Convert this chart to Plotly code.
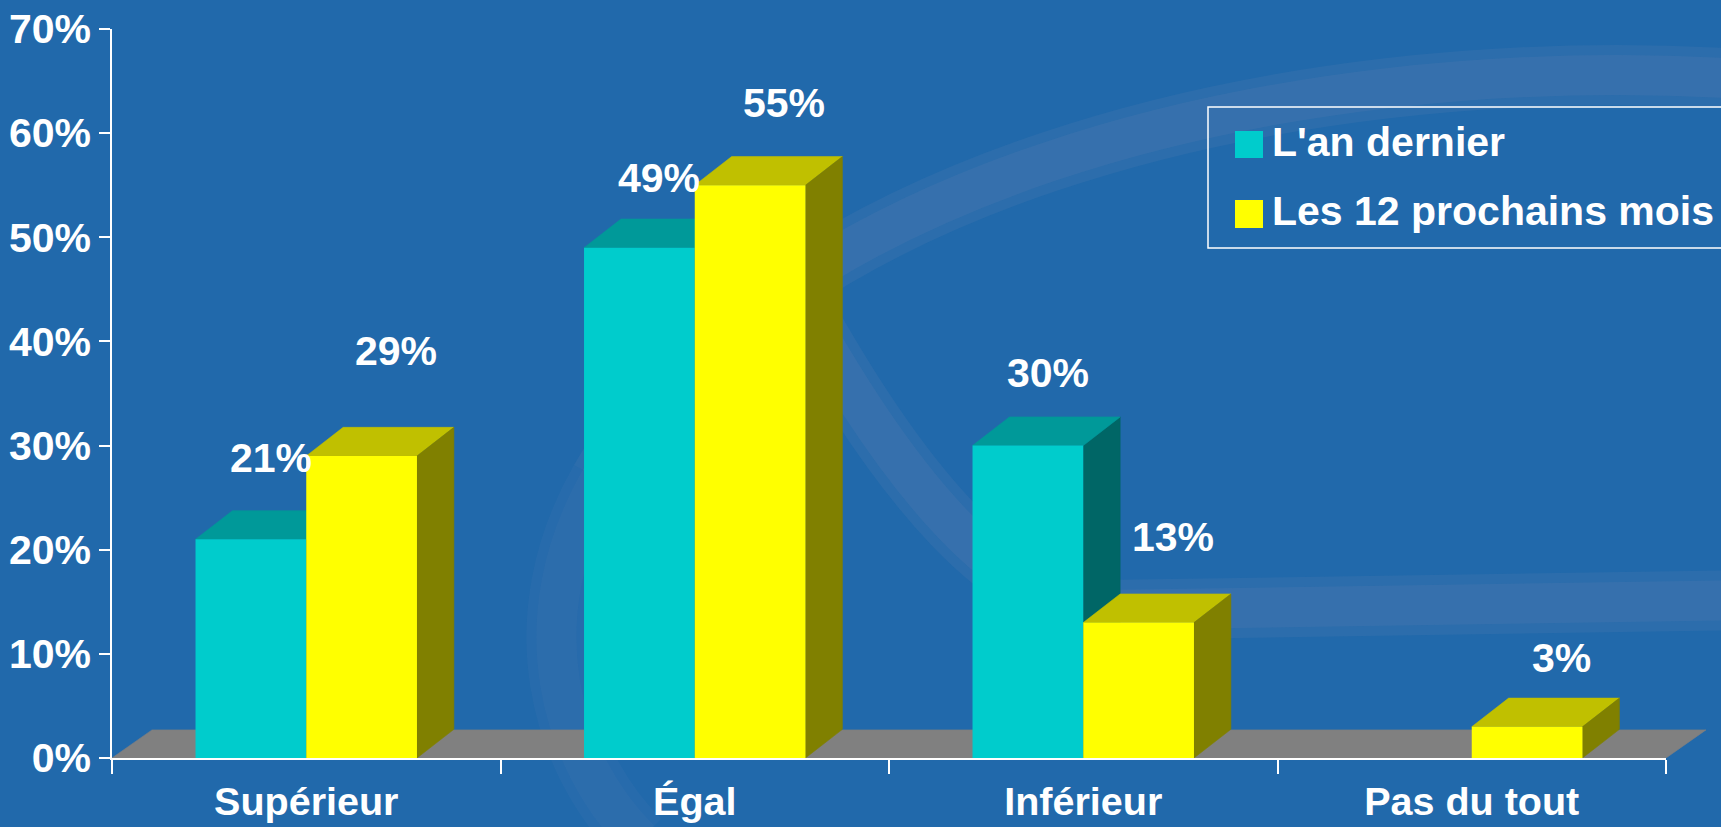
import plotly.graph_objects as go

# ---------------- data ----------------
categories = ["Supérieur", "Égal", "Inférieur", "Pas du tout"]
last_year = [21, 49, 30, 0]
next_12_months = [29, 55, 13, 3]
series_names = ["L'an dernier", "Les 12 prochains mois"]
y_ticks = [0, 10, 20, 30, 40, 50, 60, 70]
y_tick_text = [f"{v}%" for v in y_ticks]

# ---------------- styling ----------------
W, H = 1721, 827
ML, MR, MT, MB = 112, 15, 29, 69
PLOT_W = 1554                      # visible axis length in px
PAPER_W = W - ML - MR
PAPER_H = H - MT - MB
BG = "#2169AB"
FONT = "Liberation Sans, Arial, sans-serif"
FS = 41
BARGAP = 0.43
BW = (1 - BARGAP) / 2              # one bar width in category units
DX, DY = 0.095, 2.75               # 3D depth for bars
FDX, FDY = 0.103, 2.7              # 3D depth for floor
CYAN = dict(front="#00CCCC", top="#009999", side="#006666")
YELLOW = dict(front="#FFFF00", top="#C0C000", side="#808000")
FLOOR = "#808080"
label_lift_last = [7.8, 6.7, 7.0, 0]
label_lift_next = [10.1, 7.9, 8.2, 6.6]
label_dx_last = 0.051
label_dx_next = 0.0875


def px_x(px):
    return (px - ML) / PAPER_W


def px_y(py):
    return (H - MB - py) / PAPER_H


def faces(values, left_offset):
    tx, ty, sx, sy = [], [], [], []
    for i, v in enumerate(values):
        if not v:
            continue
        x0 = i + left_offset
        x1 = x0 + BW
        tx += [x0, x1, x1 + DX, x0 + DX, x0, None]
        ty += [v, v, v + DY, v + DY, v, None]
        sx += [x1, x1 + DX, x1 + DX, x1, x1, None]
        sy += [0, DY, v + DY, v, 0, None]
    return tx, ty, sx, sy


def poly(x, y, color):
    return go.Scatter(x=x, y=y, mode="lines", fill="toself", fillcolor=color,
                      line=dict(color=color, width=0.6), hoverinfo="skip",
                      showlegend=False, xaxis="x", yaxis="y")


fig = go.Figure()

# floor
n = len(categories)
fig.add_trace(poly([-0.5, n - 0.5, n - 0.5 + FDX, -0.5 + FDX, -0.5],
                   [0, 0, FDY, FDY, 0], FLOOR))

ctx, cty, csx, csy = faces(last_year, -BW)
ytx, yty, ysx, ysy = faces(next_12_months, 0)
fig.add_trace(poly(csx, csy, CYAN["side"]))
fig.add_trace(poly(ctx, cty, CYAN["top"]))
fig.add_trace(poly(ytx, yty, YELLOW["top"]))
fig.add_trace(poly(ysx, ysy, YELLOW["side"]))

# front faces (real bars) on the overlaid visible subplot
fig.add_trace(go.Bar(x=categories, y=last_year, name=series_names[0],
                     marker=dict(color=CYAN["front"], line=dict(width=0)),
                     xaxis="x2", yaxis="y2", showlegend=False))
fig.add_trace(go.Bar(x=categories, y=next_12_months, name=series_names[1],
                     marker=dict(color=YELLOW["front"], line=dict(width=0)),
                     xaxis="x2", yaxis="y2", showlegend=False))

font_w = dict(family=FONT, size=FS, color="white", weight="bold")
font_x = dict(family=FONT, size=39.5, color="white", weight="bold")

annotations = []
for i, v in enumerate(last_year):
    if v:
        annotations.append(dict(x=i - BW / 2 + label_dx_last, y=v + label_lift_last[i],
                                xref="x2", yref="y2", text=f"{v}%", showarrow=False,
                                font=font_w, xanchor="center", yanchor="middle"))
for i, v in enumerate(next_12_months):
    if v:
        annotations.append(dict(x=i + BW / 2 + label_dx_next, y=v + label_lift_next[i],
                                xref="x2", yref="y2", text=f"{v}%", showarrow=False,
                                font=font_w, xanchor="center", yanchor="middle"))

# manual legend
shapes = []
leg_rows = [(series_names[0], CYAN["front"], 131, 158, 142),
            (series_names[1], YELLOW["front"], 200, 228, 211)]
shapes.append(dict(type="rect", xref="paper", yref="paper",
                   x0=px_x(1208), x1=px_x(1760), y0=px_y(248), y1=px_y(107),
                   line=dict(color="white", width=1.5), fillcolor="rgba(0,0,0,0)",
                   layer="above"))
for name, col, t, b, c in leg_rows:
    shapes.append(dict(type="rect", xref="paper", yref="paper",
                       x0=px_x(1235), x1=px_x(1263), y0=px_y(b), y1=px_y(t),
                       line=dict(width=0), fillcolor=col, layer="above"))
    annotations.append(dict(x=px_x(1270), y=px_y(c), xref="paper", yref="paper",
                            text=name, showarrow=False, font=font_w,
                            xanchor="left", yanchor="middle"))


# decorative background swooshes
def ppath(cmds):
    out = []
    for c in cmds:
        if isinstance(c, str):
            out.append(c)
        else:
            out.append(f"{px_x(c[0]):.5f},{px_y(c[1]):.5f}")
    return " ".join(out)


swooshes = [
    (["M", (1760, 80), "C", (1250, 45), (760, 200), (600, 480)], 1.0),
    (["M", (600, 480), "C", (520, 620), (560, 760), (640, 840)], 0.55),
    (["M", (790, 285), "Q", (960, 600), (1100, 610), "L", (1760, 600)], 1.0),
]
for sw, k in swooshes:
    for wdt, a in [(60, 0.09), (40, 0.10)]:
        shapes.append(dict(type="path", xref="paper", yref="paper", path=ppath(sw),
                           line=dict(color=f"rgba(150,150,190,{a * k:.3f})", width=wdt),
                           fillcolor="rgba(0,0,0,0)", layer="below"))

fig.update_layout(
    width=W, height=H, autosize=False,
    margin=dict(l=ML, r=MR, t=MT, b=MB, pad=0, autoexpand=False),
    paper_bgcolor=BG, plot_bgcolor="rgba(0,0,0,0)",
    barmode="group", bargap=BARGAP, bargroupgap=0,
    showlegend=False,
    font=dict(family=FONT, color="white"),
    xaxis=dict(domain=[0, 1], range=[-0.5, -0.5 + n * PAPER_W / PLOT_W],
               visible=False, fixedrange=True, anchor="y", automargin=False),
    yaxis=dict(domain=[0, 1], range=[0, 70], visible=False, fixedrange=True,
               anchor="x", automargin=False),
    xaxis2=dict(domain=[0, PLOT_W / PAPER_W], anchor="y2", type="category",
                categoryorder="array", categoryarray=categories,
                range=[-0.5, n - 0.5], tickson="boundaries", ticks="outside",
                ticklen=14, tickwidth=1.5, tickcolor="white",
                showline=True, linecolor="white", linewidth=1.5, showgrid=False,
                zeroline=False, tickfont=font_x, ticklabelstandoff=8,
                fixedrange=True, automargin=False),
    yaxis2=dict(domain=[0, 1], anchor="x2", range=[0, 70], tickvals=y_ticks,
                ticktext=y_tick_text, ticks="outside", ticklen=11, tickwidth=1.5,
                tickcolor="white", showline=True, linecolor="white", linewidth=1.5,
                showgrid=False, zeroline=False, tickfont=font_w, fixedrange=True,
                automargin=False),
    annotations=annotations,
    shapes=shapes,
)

fig.write_html(
    "out.html",
    config={"displayModeBar": False},
    post_script="document.body.style.margin='0';document.body.style.padding='0';"
                "document.body.style.overflow='hidden';"
                "document.documentElement.style.background='" + BG + "';",
)
